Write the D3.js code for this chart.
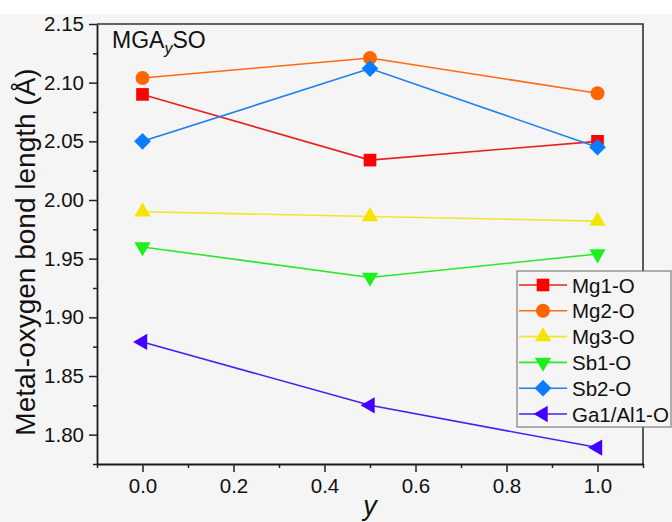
<!DOCTYPE html>
<html>
<head>
<meta charset="utf-8">
<script src="https://cdn.jsdelivr.net/npm/d3@7"></script>
<style>
  body { margin: 0; background: #f5f5f5; }
  svg { display: block; font-family: Arial, "Liberation Sans", sans-serif; }
</style>
</head>
<body>
<div id="chart"></div>
<script>
// data
const yValues = [0, 0.5, 1.0]
const seriesNames = ['Mg1-O', 'Mg2-O', 'Mg3-O', 'Sb1-O', 'Sb2-O', 'Ga1/Al1-O']
const mg1 = [2.090, 2.034, 2.050]
const mg2 = [2.104, 2.121, 2.091]
const mg3 = [1.990, 1.986, 1.982]
const sb1 = [1.960, 1.934, 1.954]
const sb2 = [2.050, 2.112, 2.045]
const ga1 = [1.879, 1.825, 1.789]
const xTicks = [0, 0.2, 0.4, 0.6, 0.8, 1.0]
const yTicks = [1.80, 1.85, 1.90, 1.95, 2.00, 2.05, 2.10, 2.15]

const seriesData = [mg1, mg2, mg3, sb1, sb2, ga1]
const lineColors = ['#e8201e', '#ff6a10', '#f2e62a', '#2ae82a', '#1e7ef0', '#4a1ef0']
const markColors = ['#ff0000', '#ff6600', '#f5e400', '#1ef01e', '#0a7cff', '#4400ff']

const width = 672, height = 522
const margin = {top: 24, right: 29, bottom: 58, left: 97}

const svg = d3.select('#chart').append('svg')
  .attr('width', width)
  .attr('height', height)

svg.append('rect').attr('width', width).attr('height', 14).attr('fill', '#fff')

const x = d3.scaleLinear().domain([-0.1, 1.1]).range([margin.left, width - margin.right])
const y = d3.scaleLinear().domain([1.775, 2.15]).range([height - margin.bottom, margin.top])

// frame (top + right)
svg.append('path')
  .attr('d', `M${x(-0.1)},${y(2.15)}H${x(1.1)}V${y(1.775)}`)
  .attr('fill', 'none').attr('stroke', '#333').attr('stroke-width', 1.6)

// minor ticks
svg.append('g')
  .attr('transform', `translate(0,${y(1.775)})`)
  .call(d3.axisBottom(x).tickValues(d3.range(-0.1, 1.11, 0.2)).tickSize(4).tickFormat(''))
  .call(g => g.select('.domain').remove())
svg.append('g')
  .attr('transform', `translate(${x(-0.1)},0)`)
  .call(d3.axisLeft(y).tickValues(d3.range(1.775, 2.15, 0.05)).tickSize(4).tickFormat(''))
  .call(g => g.select('.domain').remove())

// major axes
svg.append('g')
  .attr('transform', `translate(0,${y(1.775)})`)
  .call(d3.axisBottom(x).tickValues(xTicks).tickSize(8).tickSizeOuter(0).tickPadding(6).tickFormat(d3.format('.1f')))
svg.append('g')
  .attr('transform', `translate(${x(-0.1)},0)`)
  .call(d3.axisLeft(y).tickValues(yTicks).tickSize(8).tickSizeOuter(0).tickPadding(5).tickFormat(d3.format('.2f')))

svg.selectAll('.tick line').attr('stroke', '#222').attr('stroke-width', 1.5)
svg.selectAll('.domain').attr('stroke', '#1a1a1a').attr('stroke-width', 1.8)
svg.selectAll('.tick text').attr('font-size', 20.5).attr('fill', '#111')
  .attr('font-family', 'Arial, "Liberation Sans", sans-serif')

// markers
function symbolFor (i) {
  if (i === 0) return {type: d3.symbolSquare, size: 160, rot: 0}
  if (i === 1) return {type: d3.symbolCircle, size: 154, rot: 0}
  if (i === 2) return {type: d3.symbolTriangle, size: 115, rot: 0}
  if (i === 3) return {type: d3.symbolTriangle, size: 115, rot: 180}
  if (i === 4) return {type: d3.symbolSquare, size: 140, rot: 45}
  return {type: d3.symbolTriangle, size: 115, rot: -90}
}

const line = d3.line().x((d, i) => x(yValues[i])).y(d => y(d))

seriesData.forEach((vals, i) => {
  svg.append('path')
    .attr('d', line(vals))
    .attr('fill', 'none')
    .attr('stroke', lineColors[i])
    .attr('stroke-width', 1.6)
})
seriesData.forEach((vals, i) => {
  const s = symbolFor(i)
  svg.selectAll(null)
    .data(vals)
    .enter()
    .append('path')
    .attr('d', d3.symbol().type(s.type).size(s.size))
    .attr('transform', (d, j) => `translate(${x(yValues[j])},${y(d)}) rotate(${s.rot})`)
    .attr('fill', markColors[i])
})

// title
const title = svg.append('text')
  .attr('x', 112).attr('y', 48)
  .attr('font-size', 23).attr('fill', '#111')
title.append('tspan').text('MGA')
title.append('tspan').text('y').attr('font-style', 'italic').attr('font-size', 16).attr('dy', 6)
title.append('tspan').text('SO').attr('dy', -6)

// axis titles
svg.append('text')
  .attr('transform', `translate(35,${(y(1.775) + y(2.15)) / 2 + 8}) rotate(-90)`)
  .attr('text-anchor', 'middle')
  .attr('font-size', 28).attr('fill', '#111')
  .text('Metal-oxygen bond length (Å)')

svg.append('text')
  .attr('x', (x(-0.1) + x(1.1)) / 2).attr('y', 515)
  .attr('text-anchor', 'middle')
  .attr('font-size', 27).attr('font-style', 'italic').attr('fill', '#111')
  .text('y')

// legend
const lg = svg.append('g').attr('transform', 'translate(517,271)')
lg.append('rect')
  .attr('width', 154).attr('height', 156)
  .attr('fill', '#f5f5f5').attr('stroke', '#666').attr('stroke-width', 1)

seriesNames.forEach((name, i) => {
  const cy = 14 + i * 25.8
  lg.append('line')
    .attr('x1', 2).attr('x2', 50).attr('y1', cy).attr('y2', cy)
    .attr('stroke', lineColors[i]).attr('stroke-width', 1.6)
  const s = symbolFor(i)
  lg.append('path')
    .attr('d', d3.symbol().type(s.type).size(s.size))
    .attr('transform', `translate(26,${cy}) rotate(${s.rot})`)
    .attr('fill', markColors[i])
  lg.append('text')
    .attr('x', 55).attr('y', cy + 7.5)
    .attr('font-size', 20.5).attr('fill', '#111')
    .text(name)
})
</script>
</body>
</html>
